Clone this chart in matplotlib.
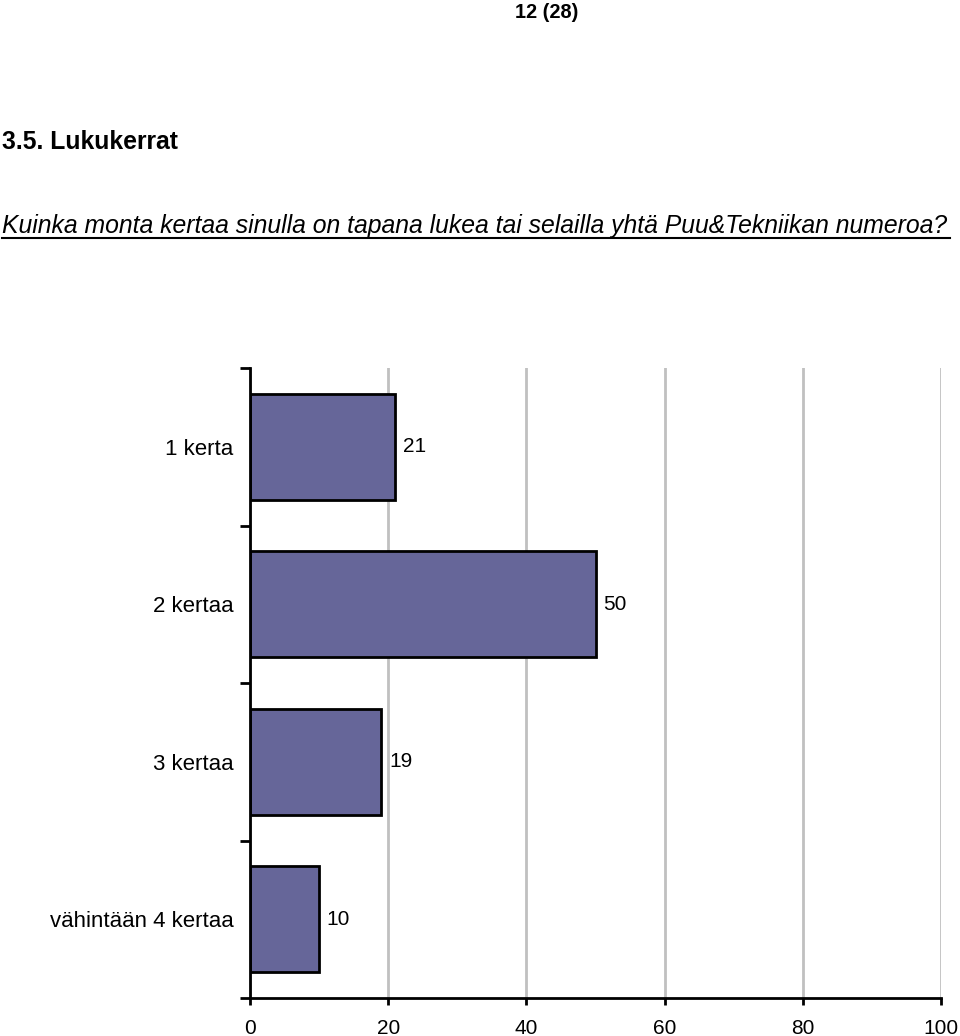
import matplotlib.pyplot as plt
import numpy as np

plt.rcParams['font.family'] = ['Liberation Sans', 'DejaVu Sans']

categories = ["1 kerta", "2 kertaa", "3 kertaa", "vähintään 4 kertaa"]
values = [21, 50, 19, 10]
x_ticks = [0, 20, 40, 60, 80, 100]

page_label = "12 (28)"
section_title = "3.5. Lukukerrat"
question = "Kuinka monta kertaa sinulla on tapana lukea tai selailla yhtä Puu&Tekniikan numeroa?"

fig = plt.figure(figsize=(9.6, 10.36), dpi=100)
ax = fig.add_axes([250 / 960, 38 / 1036, 691 / 960, 630 / 1036])

y = np.arange(len(categories))
ax.barh(y, values, height=0.67, color="#666699", edgecolor="black", linewidth=2, zorder=3)

for yi, v in zip(y, values):
    ax.text(v + 1.1, yi, str(v), va="center", ha="left", fontsize=15)

ax.set_xlim(0, 100)
ax.set_ylim(len(categories) - 0.5, -0.5)
ax.set_xticks(x_ticks)
ax.set_xticklabels([str(t) for t in x_ticks], fontsize=15)
ax.tick_params(axis="x", length=5, width=2, pad=10)

ax.set_yticks(y)
ax.set_yticklabels(categories, fontsize=16)
ax.tick_params(axis="y", which="major", length=0, pad=12)
ax.set_yticks(np.arange(-0.5, len(categories)), minor=True)
ax.tick_params(axis="y", which="minor", length=7, width=2)

ax.grid(axis="x", color="#c0c0c0", linewidth=2, zorder=0)
ax.set_axisbelow(True)
for side in ["top", "right"]:
    ax.spines[side].set_visible(False)
for side in ["left", "bottom"]:
    ax.spines[side].set_linewidth(2)
    ax.spines[side].set_zorder(4)

fig.text(547 / 960, 1 - 12 / 1036, page_label, ha="center", va="center",
         fontsize=14.4, fontweight="bold")
fig.text(2 / 960, 1 - 142 / 1036, section_title, ha="left", va="center",
         fontsize=17.8, fontweight="bold")
fig.text(2 / 960, 1 - 226 / 1036, question, ha="left", va="center",
         fontsize=17.8, style="italic")
fig.add_artist(plt.Line2D([2 / 960, 950 / 960], [1 - 238 / 1036, 1 - 238 / 1036],
                          color="black", linewidth=1.5))

fig.savefig("out.png", dpi=100)
